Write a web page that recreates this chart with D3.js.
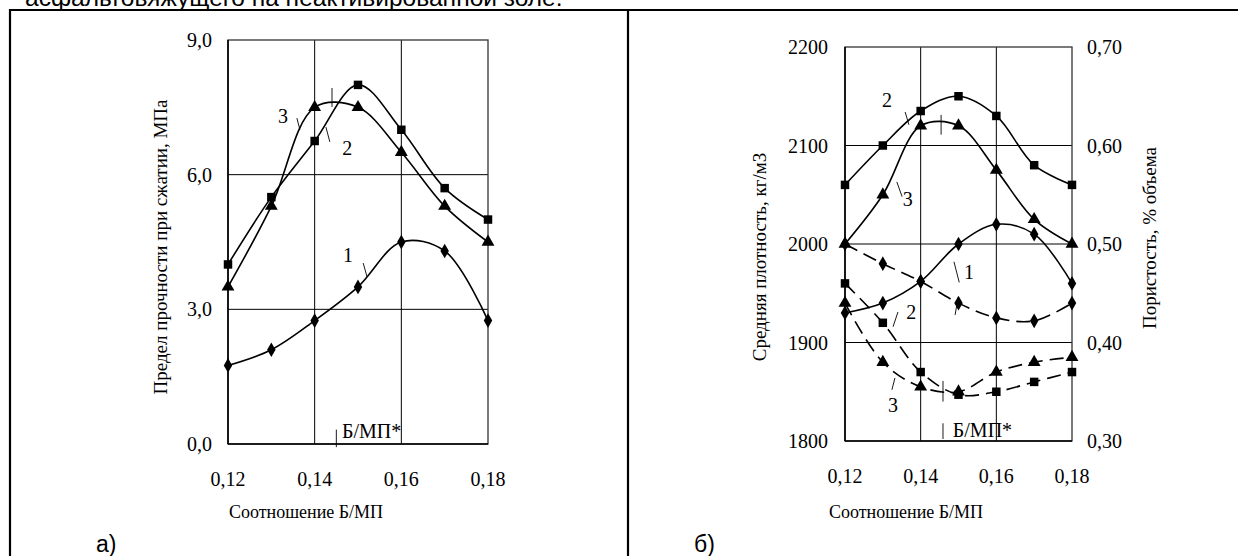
<!DOCTYPE html>
<html><head><meta charset="utf-8">
<script src="https://cdn.jsdelivr.net/npm/d3@7"></script>
<style>
body{margin:0;background:#fff;}
svg{display:block;}
</style></head>
<body>
<svg id="c" width="1238" height="556"></svg>
<script>
// ---------- DATA ----------
const ratio = [0.12, 0.13, 0.14, 0.15, 0.16, 0.17, 0.18];
const xTicks = [0.12, 0.14, 0.16, 0.18];
// (a) compressive strength, MPa
const strength1 = [1.75, 2.1, 2.75, 3.5, 4.5, 4.3, 2.75];
const strength2 = [4.0, 5.5, 6.75, 8.0, 7.0, 5.7, 5.0];
const strength3 = [3.5, 5.3, 7.5, 7.5, 6.5, 5.3, 4.5];
const strengthTicks = [0, 3, 6, 9];
// (b) average density, kg/m3 (solid)
const density1 = [1930, 1940, 1962, 2000, 2020, 2010, 1960];
const density2 = [2060, 2100, 2135, 2150, 2130, 2080, 2060];
const density3 = [2000, 2050, 2120, 2120, 2075, 2025, 2000];
const densityTicks = [1800, 1900, 2000, 2100, 2200];
// (b) porosity, % of volume (dashed, right axis)
const porosity1 = [0.50, 0.48, 0.462, 0.44, 0.425, 0.422, 0.44];
const porosity2 = [0.46, 0.42, 0.37, 0.347, 0.35, 0.36, 0.37];
const porosity3 = [0.44, 0.38, 0.355, 0.35, 0.37, 0.38, 0.385];
const porosityTicks = [0.30, 0.40, 0.50, 0.60, 0.70];

const topText = "асфальтовяжущего на неактивированной золе.";
const xTitle = "Соотношение Б/МП";
const yTitleA = "Предел прочности при сжатии, МПа";
const yTitleB = "Средняя плотность, кг/м3";
const yTitleB2 = "Пористость, % объема";
const optLabel = "Б/МП*";

// ---------- DRAW ----------
const svg = d3.select("#c");
const serif = "'Liberation Serif','Times New Roman',serif";
const sans = "'Liberation Sans',Arial,sans-serif";
const fmt = d => d3.format(".1f")(d).replace(".", ",");
const fmt2 = d => d3.format(".2f")(d).replace(".", ",");

// top caption (cut by the page edge as in the original scan)
svg.append("text").attr("x", 25).attr("y", 6).attr("font-family", sans)
  .attr("font-size", 24.5).text(topText);

// frame
svg.append("path").attr("d", "M10,560 V10 H1245").attr("fill", "none")
  .attr("stroke", "#000").attr("stroke-width", 2.2);
svg.append("line").attr("x1", 628).attr("x2", 628).attr("y1", 10).attr("y2", 560)
  .attr("stroke", "#000").attr("stroke-width", 2.2);

const line = (x, y) => d3.line().x(d => x(d[0])).y(d => y(d[1])).curve(d3.curveCatmullRom.alpha(0.5));
const symSquare = d3.symbol().type(d3.symbolSquare).size(72);
const symTri = d3.symbol().type(d3.symbolTriangle).size(72);
const symDia = d3.symbol().type(d3.symbolDiamond).size(62);

function series(g, x, y, vals, sym, dashed) {
  const pts = ratio.map((r, i) => [r, vals[i]]);
  g.append("path").attr("d", line(x, y)(pts)).attr("fill", "none")
    .attr("stroke", "#000").attr("stroke-width", 1.6)
    .attr("stroke-dasharray", dashed ? "14,7" : null);
  g.selectAll(null).data(pts).enter().append("path")
    .attr("d", sym).attr("transform", d => `translate(${x(d[0])},${y(d[1])})`)
    .attr("fill", "#000");
}
function seg(g, x, y, a, b, w) {
  g.append("line").attr("x1", x(a[0])).attr("y1", y(a[1])).attr("x2", x(b[0])).attr("y2", y(b[1]))
    .attr("stroke", "#000").attr("stroke-width", w || 0.9);
}
function lbl(g, x, y, p, t, anchor) {
  g.append("text").attr("x", x(p[0])).attr("y", y(p[1])).attr("dy", "0.35em")
    .attr("text-anchor", anchor || "middle").attr("font-family", serif).attr("font-size", 20).text(t);
}
function frame(g, x, y, xt, yt) {
  const [x0, x1] = x.range(), [y0, y1] = y.range();
  g.selectAll(null).data(xt.slice(1, -1)).enter().append("line")
    .attr("x1", d => x(d)).attr("x2", d => x(d)).attr("y1", y0).attr("y2", y1)
    .attr("stroke", "#000").attr("stroke-width", 1);
  g.selectAll(null).data(yt.slice(1, -1)).enter().append("line")
    .attr("y1", d => y(d)).attr("y2", d => y(d)).attr("x1", x0).attr("x2", x1)
    .attr("stroke", "#000").attr("stroke-width", 1);
  g.append("rect").attr("x", x0).attr("y", y1).attr("width", x1 - x0).attr("height", y0 - y1)
    .attr("fill", "none").attr("stroke", "#333").attr("stroke-width", 1.3);
  g.append("line").attr("x1", x0).attr("x2", x0).attr("y1", y0).attr("y2", y1).attr("stroke", "#000").attr("stroke-width", 1.6);
  g.append("line").attr("x1", x0).attr("x2", x1).attr("y1", y0).attr("y2", y0).attr("stroke", "#000").attr("stroke-width", 1.6);
  g.selectAll(null).data(xt).enter().append("text")
    .attr("x", d => x(d)).attr("y", y0 + 42).attr("text-anchor", "middle")
    .attr("font-family", serif).attr("font-size", 20).text(d => fmt2(d));
}

// ---- chart a ----
const ga = svg.append("g");
const xa = d3.scaleLinear().domain([0.12, 0.18]).range([228, 488]);
const ya = d3.scaleLinear().domain([0, 9]).range([444, 40]);
frame(ga, xa, ya, xTicks, strengthTicks);
ga.selectAll(null).data(strengthTicks).enter().append("text")
  .attr("x", 212).attr("y", d => ya(d)).attr("dy", "0.35em").attr("text-anchor", "end")
  .attr("font-family", serif).attr("font-size", 20).text(d => fmt(d));
series(ga, xa, ya, strength1, symDia, false);
series(ga, xa, ya, strength2, symSquare, false);
series(ga, xa, ya, strength3, symTri, false);
lbl(ga, xa, ya, [0.1327, 7.3], "3");
seg(ga, xa, ya, [0.1359, 7.26], [0.1366, 7.0]);
lbl(ga, xa, ya, [0.1475, 6.6], "2");
seg(ga, xa, ya, [0.1426, 7.06], [0.1435, 6.73]);
seg(ga, xa, ya, [0.144, 7.93], [0.144, 7.51]);
lbl(ga, xa, ya, [0.1477, 4.2], "1");
seg(ga, xa, ya, [0.1512, 4.03], [0.1521, 3.72]);
lbl(ga, xa, ya, [0.1463, 0.3], optLabel, "start");
seg(ga, xa, ya, [0.145, 0.32], [0.145, -0.07]);
ga.append("text").attr("transform", "translate(167,247) rotate(-90)").attr("text-anchor", "middle")
  .attr("font-family", serif).attr("font-size", 19).text(yTitleA);
ga.append("text").attr("x", 306).attr("y", 518).attr("text-anchor", "middle")
  .attr("font-family", serif).attr("font-size", 18).text(xTitle);
ga.append("text").attr("x", 96).attr("y", 552).attr("font-family", sans).attr("font-size", 23).text("а)");

// ---- chart b ----
const gb = svg.append("g");
const xb = d3.scaleLinear().domain([0.12, 0.18]).range([845, 1072]);
const yb = d3.scaleLinear().domain([1800, 2200]).range([441, 47]);
const yb2 = d3.scaleLinear().domain([0.30, 0.70]).range([441, 47]);
frame(gb, xb, yb, xTicks, densityTicks);
gb.selectAll(null).data(densityTicks).enter().append("text")
  .attr("x", 828).attr("y", d => yb(d)).attr("dy", "0.35em").attr("text-anchor", "end")
  .attr("font-family", serif).attr("font-size", 20).text(d => d);
gb.selectAll(null).data(porosityTicks).enter().append("text")
  .attr("x", 1087).attr("y", d => yb2(d)).attr("dy", "0.35em").attr("text-anchor", "start")
  .attr("font-family", serif).attr("font-size", 20).text(d => fmt2(d));
series(gb, xb, yb, density1, symDia, false);
series(gb, xb, yb, density2, symSquare, false);
series(gb, xb, yb, density3, symTri, false);
series(gb, xb, yb2, porosity1, symDia, true);
series(gb, xb, yb2, porosity2, symSquare, true);
series(gb, xb, yb2, porosity3, symTri, true);
lbl(gb, xb, yb, [0.1311, 2146], "2");
seg(gb, xb, yb, [0.1359, 2134], [0.1369, 2121]);
seg(gb, xb, yb, [0.1454, 2131], [0.1454, 2111]);
lbl(gb, xb, yb, [0.1366, 2046], "3");
seg(gb, xb, yb, [0.1337, 2063], [0.1351, 2048]);
lbl(gb, xb, yb, [0.1528, 1972], "1");
seg(gb, xb, yb, [0.1488, 1982], [0.1502, 1961]);
seg(gb, xb, yb, [0.1499, 1946], [0.1491, 1928]);
lbl(gb, xb, yb, [0.1375, 1931], "2");
seg(gb, xb, yb, [0.134, 1931], [0.1327, 1916]);
lbl(gb, xb, yb, [0.1327, 1837], "3");
seg(gb, xb, yb, [0.1332, 1864], [0.1324, 1852]);
seg(gb, xb, yb, [0.1459, 1861], [0.1459, 1840]);
lbl(gb, xb, yb, [0.1485, 1811], optLabel, "start");
seg(gb, xb, yb, [0.1459, 1818], [0.1459, 1802]);
gb.append("text").attr("transform", "translate(766,257) rotate(-90)").attr("text-anchor", "middle")
  .attr("font-family", serif).attr("font-size", 19).text(yTitleB);
gb.append("text").attr("transform", "translate(1156,238) rotate(-90)").attr("text-anchor", "middle")
  .attr("font-family", serif).attr("font-size", 19).text(yTitleB2);
gb.append("text").attr("x", 906).attr("y", 518).attr("text-anchor", "middle")
  .attr("font-family", serif).attr("font-size", 18).text(xTitle);
gb.append("text").attr("x", 694).attr("y", 552).attr("font-family", sans).attr("font-size", 23).text("б)");
</script>
</body></html>
